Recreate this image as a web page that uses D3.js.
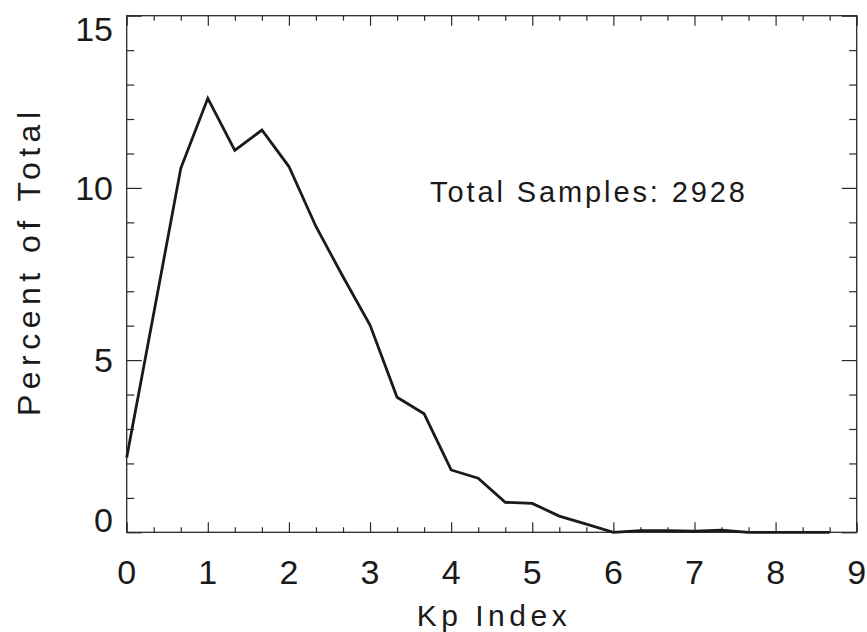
<!DOCTYPE html>
<html>
<head>
<meta charset="utf-8">
<script src="https://cdn.jsdelivr.net/npm/d3@7"></script>
<style>
  html, body { margin: 0; padding: 0; background: #fff; }
  svg { display: block; }
  text { font-family: "Liberation Sans", Arial, sans-serif; fill: #1a1a1a; }
</style>
</head>
<body>
<svg id="chart" width="867" height="632"></svg>
<script>
// ---- data ----
const kpIndex = [0, 0.333, 0.667, 1, 1.333, 1.667, 2, 2.333, 2.667, 3, 3.333, 3.667,
                 4, 4.333, 4.667, 5, 5.333, 5.667, 6, 6.333, 6.667, 7, 7.333, 7.667,
                 8, 8.333, 8.667];
const percentOfTotal = [2.17, 6.35, 10.57, 12.6, 11.09, 11.68, 10.62, 8.88, 7.42, 6.02, 3.92, 3.44,
                        1.81, 1.57, 0.87, 0.84, 0.47, 0.24, 0.0, 0.05, 0.05, 0.03, 0.06, 0.0,
                        0.0, 0.0, 0.0];
const xTickLabels = ["0", "1", "2", "3", "4", "5", "6", "7", "8", "9"];
const yTickLabels = ["0", "5", "10", "15"];
const xTitle = "Kp Index";
const yTitle = "Percent of Total";
const annotation = "Total Samples: 2928";

// ---- layout ----
const svg = d3.select("#chart");
const L = 126.7, R = 856.7, T = 15.7, B = 532.3;
const x = d3.scaleLinear().domain([0, 9]).range([L, R]);
const y = d3.scaleLinear().domain([0, 15]).range([B, T]);

const xMajor = xTickLabels.map(Number);
const xMinor = d3.range(0, 27).map(i => i / 3).filter(v => Math.abs(v - Math.round(v)) > 1e-6);
const yMajor = yTickLabels.map(Number);
const yMinor = d3.range(0, 16).filter(v => v % 5 !== 0);

const axisColor = "#2a2a2a";

function styleAxis(g) {
  g.select(".domain").remove();
  g.selectAll("line").attr("stroke", axisColor).attr("stroke-width", 1.2);
  g.selectAll("text").remove();
}

// bottom
svg.append("g").attr("transform", `translate(0,${B})`)
  .call(d3.axisBottom(x).tickValues(xMajor).tickSize(-10)).call(styleAxis);
svg.append("g").attr("transform", `translate(0,${B})`)
  .call(d3.axisBottom(x).tickValues(xMinor).tickSize(-5)).call(styleAxis);
// top
svg.append("g").attr("transform", `translate(0,${T})`)
  .call(d3.axisTop(x).tickValues(xMajor).tickSize(-10)).call(styleAxis);
svg.append("g").attr("transform", `translate(0,${T})`)
  .call(d3.axisTop(x).tickValues(xMinor).tickSize(-5)).call(styleAxis);
// left
svg.append("g").attr("transform", `translate(${L},0)`)
  .call(d3.axisLeft(y).tickValues(yMajor).tickSize(-15)).call(styleAxis);
svg.append("g").attr("transform", `translate(${L},0)`)
  .call(d3.axisLeft(y).tickValues(yMinor).tickSize(-7.5)).call(styleAxis);
// right
svg.append("g").attr("transform", `translate(${R},0)`)
  .call(d3.axisRight(y).tickValues(yMajor).tickSize(-15)).call(styleAxis);
svg.append("g").attr("transform", `translate(${R},0)`)
  .call(d3.axisRight(y).tickValues(yMinor).tickSize(-7.5)).call(styleAxis);

// frame
svg.append("rect")
  .attr("x", L).attr("y", T).attr("width", R - L).attr("height", B - T)
  .attr("fill", "none").attr("stroke", axisColor).attr("stroke-width", 1.3);

// tick labels
svg.append("g").selectAll("text").data(xTickLabels).join("text")
  .attr("x", d => x(+d)).attr("y", 584)
  .attr("text-anchor", "middle").attr("font-size", 34)
  .text(d => d);

svg.append("g").selectAll("text").data(yTickLabels).join("text")
  .attr("x", 113)
  .attr("y", d => Math.max(T + 12.5, Math.min(B - 12.5, y(+d))) + 12.3)
  .attr("text-anchor", "end").attr("font-size", 34)
  .text(d => d);

// axis titles
svg.append("text")
  .attr("x", (L + R) / 2).attr("y", 626)
  .attr("text-anchor", "middle").attr("font-size", 30)
  .attr("textLength", 150).attr("lengthAdjust", "spacing")
  .text(xTitle);

svg.append("text")
  .attr("transform", `translate(40,264) rotate(-90)`)
  .attr("text-anchor", "middle").attr("font-size", 32)
  .attr("textLength", 304).attr("lengthAdjust", "spacing")
  .text(yTitle);

// annotation
svg.append("text")
  .attr("x", 430).attr("y", 201.5)
  .attr("font-size", 29)
  .attr("textLength", 315).attr("lengthAdjust", "spacing")
  .text(annotation);

// line
const data = kpIndex.map((k, i) => ({ k, v: percentOfTotal[i] }));
svg.append("path")
  .datum(data)
  .attr("fill", "none")
  .attr("stroke", "#1a1a1a")
  .attr("stroke-width", 2.8)
  .attr("stroke-linejoin", "miter")
  .attr("d", d3.line().x(d => x(d.k)).y(d => y(d.v)));
</script>
</body>
</html>
